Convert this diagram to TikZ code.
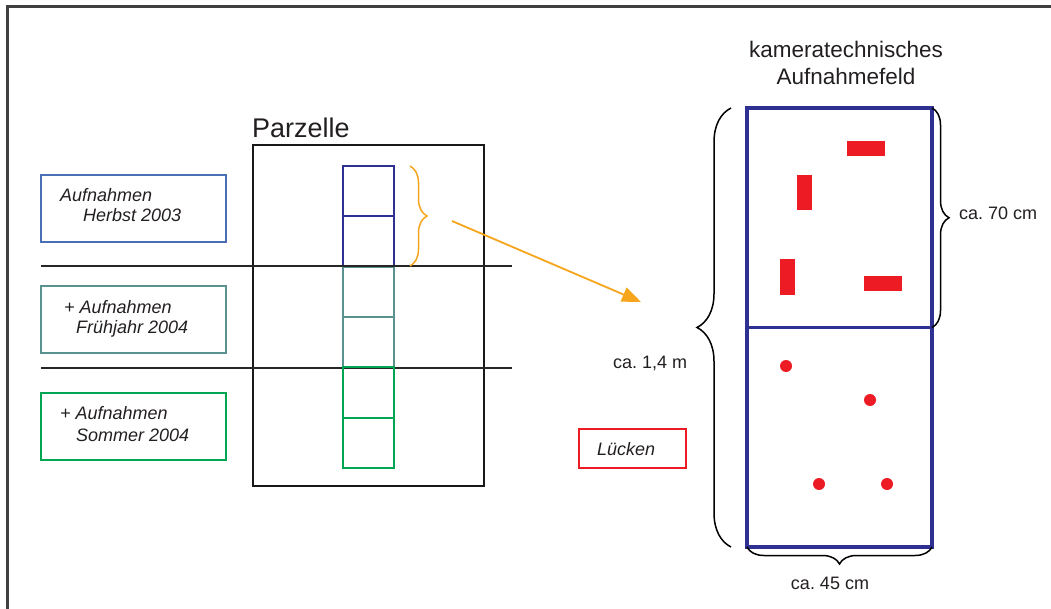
\documentclass[tikz,border=0pt]{standalone}
\usepackage{fontspec}
\setmainfont{Liberation Sans}
\usetikzlibrary{arrows.meta,decorations.pathreplacing}
\definecolor{navy}{HTML}{2E3192}
\definecolor{herbstc}{HTML}{4A6FB5}
\definecolor{tealc}{HTML}{5B9290}
\definecolor{greenc}{HTML}{00A651}
\definecolor{redc}{HTML}{ED1C24}
\definecolor{orangec}{HTML}{F7A51C}
\definecolor{txt}{HTML}{231F20}
\definecolor{framec}{HTML}{404040}
\frenchspacing
\begin{document}
\begin{tikzpicture}[x=1pt,y=-1pt,
  box/.style={draw, rectangle, inner sep=0pt, outer sep=0pt, anchor=north west},
  lbox/.style={box, line width=2pt, minimum width=185pt, minimum height=67pt},
  sq/.style={box, line width=2pt, minimum width=51pt, minimum height=50.3pt},
  half/.style={box, draw=navy, line width=3.2pt, minimum width=185pt, minimum height=219.5pt},
  patch/.style={rectangle, fill=redc, inner sep=0pt, anchor=north west},
  dot/.style={circle, fill=redc, inner sep=0pt, minimum size=12pt},
  itext/.style={font=\fontsize{18}{21}\selectfont\itshape, text=txt, anchor=base west, inner sep=0pt},
  ntext/.style={font=\fontsize{18}{21}\selectfont, text=txt, inner sep=0pt},
  brc/.style={decorate, decoration={brace, amplitude=#1}, line width=1.5pt},
  sep/.style={draw=black!85, line width=1.5pt}
]
\useasboundingbox (0,0) rectangle (1051,609);
% outer frame
\coordinate (fbl) at (7.5,609);
\coordinate (ftl) at (7.5,6.5);
\coordinate (ftr) at (1051,6.5);
\draw[framec, line width=2.4pt] (fbl) -- (ftl) -- (ftr);

% Parzelle
\node[box, draw=black!90, line width=2.4pt, minimum width=231pt, minimum height=341pt] (parz) at (253,145) {};
\node[font=\fontsize{27}{30}\selectfont, text=txt, anchor=base west, inner sep=0pt] (parzt) at (252,138) {Parzelle};

% separator lines
\coordinate (s1a) at (41,266); \coordinate (s1b) at (512,266);
\coordinate (s2a) at (41,368); \coordinate (s2b) at (512,368);
\draw[sep] (s1a) -- (s1b);
\draw[sep] (s2a) -- (s2b);

% left boxes
\node[lbox, draw=herbstc] (herbst) at (41,175) {};
\node[itext] (h1) at (60,202) {Aufnahmen};
\node[itext] (h2) at (83,222) {Herbst 2003};
\node[lbox, draw=tealc] (fruehj) at (41,286) {};
\node[itext] (f1) at (64,313) {+ Aufnahmen};
\node[itext] (f2) at (76,334) {Frühjahr 2004};
\node[lbox, draw=greenc] (sommer) at (41,393) {};
\node[itext] (so1) at (60,419) {+ Aufnahmen};
\node[itext] (so2) at (76,441) {Sommer 2004};

% column of squares
\node[sq, draw=navy] (c1) at (343,166) {};
\node[sq, draw=navy] (c2) at (343,216.3) {};
\node[sq, draw=tealc] (c3) at (343,266.6) {};
\node[sq, draw=tealc] (c4) at (343,316.9) {};
\node[sq, draw=greenc] (c5) at (343,367.2) {};
\node[sq, draw=greenc] (c6) at (343,417.5) {};
\draw[sep] (s1a) -- (s1b);

% orange brace and arrow
\coordinate (ob1) at (410,166);
\coordinate (ob2) at (410,266);
\draw[orangec, brc=17pt] (ob1) -- (ob2);
\coordinate (as) at (452,221);
\coordinate (ae) at (641,302);
\draw[orangec, line width=1.8pt, -{Triangle[length=19pt,width=15pt]}] (as) -- (ae);

% title of camera field
\node[ntext, font=\fontsize{22.5}{26}\selectfont, anchor=base] (k1) at (846,58) {kameratechnisches};
\node[ntext, font=\fontsize{22.5}{26}\selectfont, anchor=base] (k2) at (846,85) {Aufnahmefeld};

% camera field
\node[half] (top) at (747,108) {};
\node[half] (bot) at (747,327.5) {};

% red patches
\node[patch, minimum width=38pt, minimum height=15pt] (p1) at (847,141) {};
\node[patch, minimum width=15pt, minimum height=35pt] (p2) at (797,175) {};
\node[patch, minimum width=15pt, minimum height=36pt] (p3) at (780,259) {};
\node[patch, minimum width=38pt, minimum height=15pt] (p4) at (864,276) {};

% gaps
\node[dot] (d1) at (786,366) {};
\node[dot] (d2) at (870,400) {};
\node[dot] (d3) at (819,484) {};
\node[dot] (d4) at (887,484) {};

% braces
\draw[black, brc=34pt] ([xshift=-16pt]bot.south west) -- ([xshift=-16pt]top.north west);
\draw[black, brc=17pt] (top.north east) -- (top.south east);
\draw[black, brc=17pt] (bot.south east) -- (bot.south west);

% labels
\node[ntext, anchor=west] (l70) at (959,213) {ca. 70 cm};
\node[ntext, anchor=west] (l14) at (613,363) {ca. 1,4 m};
\node[ntext] (l45) at (830,583) {ca. 45 cm};

% Luecken
\node[box, draw=redc, line width=1.5pt, minimum width=107pt, minimum height=39pt] (lbx) at (579,429) {};
\node[itext, anchor=west] (lt) at (597,449) {Lücken};
\end{tikzpicture}
\end{document}
